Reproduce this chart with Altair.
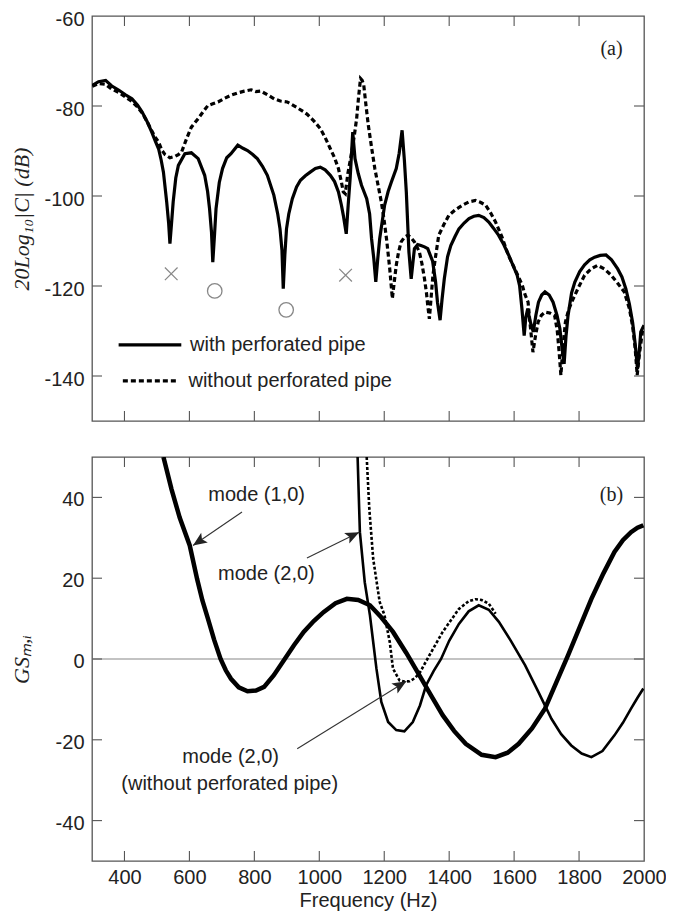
import math
import altair as alt
import pandas as pd

# ---------------- data: panel (a) ----------------
freq_with = [301, 320, 342, 360, 383, 403, 423, 440, 454, 470, 484, 495, 505, 513, 520, 530, 536, 540, 545, 550,
             558, 566, 586, 606, 627, 647, 656, 662, 668, 672, 677, 682, 692, 702, 715, 728, 749, 765, 779, 795,
             809, 825, 840, 860, 872, 879, 885, 889, 894, 899, 906, 917, 930, 942, 957, 972, 988, 1003, 1018, 1034,
             1047, 1059, 1068, 1074, 1083, 1089, 1095, 1103, 1110, 1120, 1130, 1146, 1155, 1161, 1168, 1174, 1180,
             1186, 1201, 1212, 1222, 1237, 1246, 1255, 1262, 1268, 1276, 1283, 1288, 1293, 1303, 1313, 1324, 1334,
             1349, 1358, 1364, 1372, 1378, 1385, 1395, 1405, 1418, 1430, 1446, 1461, 1476, 1491, 1507, 1522, 1537,
             1552, 1568, 1583, 1597, 1609, 1617, 1624, 1631, 1636, 1642, 1648, 1654, 1659, 1667, 1675, 1685, 1695,
             1708, 1720, 1732, 1741, 1748, 1754, 1760, 1766, 1777, 1787, 1802, 1817, 1833, 1848, 1865, 1883, 1900,
             1919, 1932, 1944, 1955, 1965, 1973, 1980, 1986, 1990, 2000]
db_with = [-75.4, -74.6, -74.3, -75.5, -76.5, -77.5, -78.4, -79.8, -81.3, -83.5, -85.8, -87.8, -89.5, -92, -94.7,
           -101.3, -106, -110.6, -106, -101.3, -96, -93.2, -90.6, -90.4, -91.7, -95.4, -99, -102.8, -108, -114.7,
           -109, -102.8, -97, -93.9, -91.5, -90.6, -88.7, -89.4, -89.9, -90.8, -91.7, -93.4, -95.4, -99.8, -104,
           -107.3, -112, -120.6, -113, -107.3, -104, -100.6, -98, -96.5, -95.5, -94.7, -93.9, -93.6, -94.2, -95.4,
           -96.8, -99.1, -102, -104.3, -108.4, -102, -96.1, -85.8, -91.7, -95, -97.6, -100.6, -104, -109.5, -114,
           -119.1, -114, -109.5, -102.1, -99, -96.9, -93.9, -90.5, -85.4, -92, -99.1, -112.4, -118.4, -115, -111.7,
           -110.8, -111, -111.3, -111.7, -114.5, -119, -123.6, -127.6, -123, -118.4, -113.5, -111, -109, -107.3,
           -106, -105, -104.5, -104.3, -104.8, -105.8, -107.2, -108.7, -110.8, -113.1, -115.5, -117.5, -120, -125,
           -131, -127, -125, -127.5, -129, -130.2, -126.5, -123.6, -122, -121.3, -122, -123.6, -126.5, -129.5, -134,
           -137.3, -131, -126.6, -121.5, -119.1, -116.8, -115.3, -114.2, -113.6, -113.2, -113.1, -114.2, -116.2,
           -118, -120.6, -124, -128.1, -133, -138.4, -134, -130.2, -128.7]

freq_without = [301, 320, 342, 360, 383, 403, 423, 440, 454, 470, 484, 495, 505, 515, 525, 540, 556, 566, 576, 591,
                606, 627, 642, 657, 672, 688, 708, 728, 748, 769, 790, 805, 820, 840, 861, 880, 901, 911, 930, 952,
                962, 983, 1003, 1018, 1034, 1047, 1059, 1067, 1074, 1080, 1088, 1100, 1108, 1115, 1121, 1127, 1132,
                1137, 1144, 1151, 1161, 1171, 1181, 1191, 1199, 1207, 1212, 1217, 1221, 1225, 1231, 1237, 1244, 1252,
                1262, 1273, 1283, 1293, 1308, 1316, 1324, 1330, 1334, 1339, 1345, 1350, 1359, 1368, 1384, 1399, 1420,
                1442, 1461, 1481, 1496, 1512, 1528, 1543, 1563, 1582, 1604, 1625, 1633, 1643, 1650, 1658, 1666, 1674,
                1684, 1695, 1710, 1725, 1733, 1739, 1744, 1750, 1758, 1767, 1777, 1797, 1817, 1837, 1857, 1878, 1899,
                1919, 1939, 1955, 1965, 1973, 1979, 1986, 1995, 2000]
db_without = [-75.6, -75, -75.2, -76.2, -77, -78, -79, -80.2, -81.5, -83.5, -85.5, -87, -88, -89.8, -90.8, -91.5,
              -91.2, -90.8, -90.2, -87.3, -84.7, -82.8, -81.3, -79.9, -79.5, -79.1, -78.3, -77.6, -77.1, -76.7,
              -76.4, -76.8, -76.7, -77.5, -78.4, -78.9, -79.1, -79.5, -80.3, -81.3, -81.8, -83.3, -85, -87, -89.5,
              -91.5, -93.9, -96.5, -99.1, -99.5, -95, -90.2, -86.5, -82.8, -78, -73.9, -74.3, -75.4, -80, -84.3,
              -89.2, -93.9, -97.6, -101.3, -105, -109.5, -112.8, -116.2, -119.5, -122.8, -119, -115.4, -112.5,
              -110.2, -109.2, -108.7, -109.3, -110.2, -112.4, -115, -118.4, -121.5, -124.3, -127.3, -122, -117.6,
              -113, -108.7, -106.3, -104.3, -103, -102, -101.3, -101, -101.4, -102, -103.8, -105.8, -109.2, -113.1,
              -116.5, -119.8, -121.8, -123.6, -129, -134.7, -131, -128, -126.5, -125.8, -126, -126.6, -130, -135,
              -139.8, -134, -128, -125.5, -123.6, -120.5, -117.6, -116.2, -115.4, -116.2, -117.6, -119.4, -121.3,
              -125, -129, -134, -139.8, -135, -130.2, -129]

cross_f = [544, 1081]
cross_v = [-117.3, -117.6]
circle_f = [678, 898]
circle_v = [-121.1, -125.3]

legend_labels = ["with perforated pipe", "without perforated pipe"]
legend_f0 = [382, 395]
legend_f1 = [575, 559]
legend_ftext = [602, 597]
legend_v = [-133.1, -141.1]

# ---------------- data: panel (b) ----------------
freq_m10 = [520, 545, 570, 601, 624, 640, 657, 676, 696, 712, 728, 752, 779, 805, 830, 860, 891, 922, 952, 983,
            1013, 1050, 1085, 1120, 1156, 1190, 1227, 1268, 1308, 1345, 1380, 1415, 1451, 1500, 1543, 1580, 1614,
            1655, 1695, 1730, 1766, 1802, 1838, 1875, 1909, 1935, 1960, 1980, 1998]
gs_m10 = [50, 42, 35, 28.1, 19.7, 14.5, 10, 4.8, 0, -2.8, -4.9, -7, -8, -7.8, -6.9, -4, -0.3, 3.4, 6.7, 9.4,
          11.6, 13.8, 14.9, 14.6, 13.3, 10.4, 6.7, 1.5, -4, -9.1, -13.9, -17.8, -21, -23.7, -24.3, -23.2, -21,
          -17.2, -12.3, -5.8, 0.9, 7.9, 14.9, 21.2, 26.5, 29.4, 31.4, 32.5, 33.1]

freq_m20 = [1118, 1125, 1140, 1156, 1166, 1176, 1191, 1212, 1237, 1262, 1288, 1310, 1329, 1352, 1375, 1400, 1430,
            1460, 1491, 1522, 1553, 1590, 1634, 1675, 1715, 1745, 1776, 1808, 1838, 1872, 1909, 1935, 1960, 1980, 1998]
gs_m20 = [50, 31.4, 19, 10.8, 4.2, -2.4, -10.6, -15.6, -17.6, -17.9, -15.6, -11.5, -6.5, -3, 0, 4.5, 8.7, 11.8,
          13.3, 12.2, 9.2, 4.5, -1.6, -8.2, -14.8, -18.6, -21.4, -23.4, -24.3, -22.8, -18.9, -15.8, -12.3, -9.6, -7.3]

freq_m20_without = [1146, 1154, 1166, 1186, 1201, 1217, 1227, 1247, 1262, 1278, 1293, 1308, 1339, 1380, 1430,
                    1460, 1481, 1500, 1522, 1543]
gs_m20_without = [50, 37.2, 24.8, 14.1, 10.8, 4.2, -2.4, -5.3, -5.6, -5.5, -4.8, -3.6, 0.9, 6.7, 12.4, 14.3,
                  14.8, 14.6, 13.7, 11.2]

note_text = ["mode (1,0)", "mode (2,0)", "mode (2,0)", "(without perforated pipe)"]
note_f = [807, 837, 727, 724]
note_v = [40.6, 21.0, -24.3, -30.9]

arrow_f0 = [762, 962, 932]
arrow_v0 = [36.4, 25.0, -22.2]
arrow_f1 = [611, 1123, 1268]
arrow_v1 = [28.1, 31.4, -5.5]

x_ticks = [400, 600, 800, 1000, 1200, 1400, 1600, 1800, 2000]
y_ticks_a = [-140, -120, -100, -80, -60]
y_ticks_b = [-40, -20, 0, 20, 40]

# ---------------- layout constants ----------------
W = 552
HA = 405
HB = 404
TICK = 10
FRAME = "#555555"
SANS = "Liberation Sans"
SERIF = "Liberation Serif"
PLAIN = "toString(datum.value)"

XDOM = [300, 2000]
YDOM_A = [-150, -60]
YDOM_B = [-50, 50]

x_axis_none = None
x_axis_b = alt.Axis(values=x_ticks, title="Frequency (Hz)", labelFlush=False, labelPadding=6, labelExpr=PLAIN,
                    titlePadding=3, titleFont=SANS, titleFontSize=20, titleFontWeight="normal",
                    titleColor="#222")
y_axis_a = alt.Axis(values=y_ticks_a, title="20Log₁₀|C| (dB)", labelPadding=8, minExtent=48, maxExtent=48,
                    labelExpr=PLAIN, labelOffset=3,
                    titlePadding=11, titleFont=SERIF, titleFontStyle="italic", titleFontWeight="normal",
                    titleFontSize=22, titleColor="#222")
y_axis_b = alt.Axis(values=y_ticks_b, title="GSₘ,ᵢ", labelPadding=8, minExtent=48, maxExtent=48,
                    labelExpr=PLAIN, labelOffset=2.5,
                    titlePadding=11, titleFont=SERIF, titleFontStyle="italic", titleFontWeight="normal",
                    titleFontSize=22, titleColor="#222")


def X(field, axis):
    return alt.X(f"{field}:Q", scale=alt.Scale(domain=XDOM, nice=False, zero=False), axis=axis)


def Y(field, dom, axis):
    return alt.Y(f"{field}:Q", scale=alt.Scale(domain=dom, nice=False, zero=False), axis=axis)


def frame_ticks(xaxis, ydom, yaxis, yticks, h):
    xt = pd.DataFrame({"f": [t for t in x_ticks if XDOM[0] < t < XDOM[1]]})
    yt = pd.DataFrame({"v": [t for t in yticks if ydom[0] < t < ydom[1]]})
    base_x = alt.Chart(xt).mark_rule(color=FRAME, strokeWidth=1.1)
    base_y = alt.Chart(yt).mark_rule(color=FRAME, strokeWidth=1.1)
    return [
        base_x.encode(x=X("f", xaxis), y=alt.value(h), y2=alt.value(h - TICK)),
        base_x.encode(x=X("f", xaxis), y=alt.value(0), y2=alt.value(TICK)),
        base_y.encode(y=Y("v", ydom, yaxis), x=alt.value(0), x2=alt.value(TICK)),
        base_y.encode(y=Y("v", ydom, yaxis), x=alt.value(W - TICK), x2=alt.value(W)),
    ]


# ---------------- panel (a) ----------------
df_with = pd.DataFrame({"f": freq_with, "v": db_with})
df_without = pd.DataFrame({"f": freq_without, "v": db_without})

line_with = alt.Chart(df_with).mark_line(color="black", strokeWidth=3.2, clip=True).encode(
    x=X("f", x_axis_none), y=Y("v", YDOM_A, y_axis_a))
line_without = alt.Chart(df_without).mark_line(color="black", strokeWidth=3.2, strokeDash=[5, 3],
                                               clip=True).encode(
    x=X("f", x_axis_none), y=Y("v", YDOM_A, y_axis_a))

crosses = alt.Chart(pd.DataFrame({"f": cross_f, "v": cross_v})).mark_point(
    shape="M-1,-1L1,1M-1,1L1,-1", size=160, filled=False, color="#555", strokeWidth=1.2).encode(
    x=X("f", x_axis_none), y=Y("v", YDOM_A, y_axis_a))
circles = alt.Chart(pd.DataFrame({"f": circle_f, "v": circle_v})).mark_point(
    shape="circle", size=210, filled=False, color="#555", strokeWidth=1.3).encode(
    x=X("f", x_axis_none), y=Y("v", YDOM_A, y_axis_a))

df_leg = pd.DataFrame({"label": legend_labels, "f": legend_f0, "f2": legend_f1, "ft": legend_ftext,
                       "v": legend_v})
leg_solid = alt.Chart(df_leg.iloc[[0]]).mark_rule(color="black", strokeWidth=3.2).encode(
    x=X("f", x_axis_none), x2="f2:Q", y=Y("v", YDOM_A, y_axis_a))
leg_dash = alt.Chart(df_leg.iloc[[1]]).mark_rule(color="black", strokeWidth=3.2, strokeDash=[5, 3]).encode(
    x=X("f", x_axis_none), x2="f2:Q", y=Y("v", YDOM_A, y_axis_a))
leg_text = alt.Chart(df_leg).mark_text(align="left", baseline="middle", font=SANS, fontSize=20,
                                       color="#222").encode(
    x=X("ft", x_axis_none), y=Y("v", YDOM_A, y_axis_a), text="label:N")

lab_a = alt.Chart(pd.DataFrame({"f": [1900], "v": [-67.3], "t": ["(a)"]})).mark_text(
    font=SERIF, fontSize=20, color="#222", baseline="middle").encode(
    x=X("f", x_axis_none), y=Y("v", YDOM_A, y_axis_a), text="t:N")

panel_a = alt.layer(
    line_with, line_without, crosses, circles, leg_solid, leg_dash, leg_text, lab_a,
    *frame_ticks(x_axis_none, YDOM_A, y_axis_a, y_ticks_a, HA)
).properties(width=W, height=HA)

# ---------------- panel (b) ----------------
zero = alt.Chart(pd.DataFrame({"v": [0]})).mark_rule(color="#888", strokeWidth=1.2).encode(
    y=Y("v", YDOM_B, y_axis_b))

m10 = alt.Chart(pd.DataFrame({"f": freq_m10, "v": gs_m10})).mark_line(
    color="black", strokeWidth=4.5, clip=True).encode(x=X("f", x_axis_b), y=Y("v", YDOM_B, y_axis_b))
m20 = alt.Chart(pd.DataFrame({"f": freq_m20, "v": gs_m20})).mark_line(
    color="black", strokeWidth=2.6, clip=True).encode(x=X("f", x_axis_b), y=Y("v", YDOM_B, y_axis_b))
m20w = alt.Chart(pd.DataFrame({"f": freq_m20_without, "v": gs_m20_without})).mark_line(
    color="black", strokeWidth=2.6, strokeDash=[3, 2], clip=True).encode(
    x=X("f", x_axis_b), y=Y("v", YDOM_B, y_axis_b))

notes = alt.Chart(pd.DataFrame({"f": note_f, "v": note_v, "t": note_text})).mark_text(
    font=SANS, fontSize=20, color="#222", baseline="middle").encode(
    x=X("f", x_axis_b), y=Y("v", YDOM_B, y_axis_b), text="t:N")

px_per_f = W / (XDOM[1] - XDOM[0])
px_per_v = HB / (YDOM_B[1] - YDOM_B[0])
arrow_angle = []
for f0, v0, f1, v1 in zip(arrow_f0, arrow_v0, arrow_f1, arrow_v1):
    a = math.degrees(math.atan2((f1 - f0) * px_per_f, (v1 - v0) * px_per_v))
    arrow_angle.append(round(a % 360, 1))

df_arr = pd.DataFrame({"f": arrow_f0, "v": arrow_v0, "f2": arrow_f1, "v2": arrow_v1, "ang": arrow_angle})
arr_lines = alt.Chart(df_arr).mark_rule(color="#333", strokeWidth=1.1).encode(
    x=X("f", x_axis_b), y=Y("v", YDOM_B, y_axis_b), x2="f2:Q", y2="v2:Q")
arr_heads = alt.Chart(df_arr).mark_point(
    shape="M0,0L-0.42,1L0,0.78L0.42,1Z", size=780, filled=True, color="#222", opacity=1).encode(
    x=X("f2", x_axis_b), y=Y("v2", YDOM_B, y_axis_b), angle=alt.Angle("ang:Q", scale=None))

lab_b = alt.Chart(pd.DataFrame({"f": [1900], "v": [40.6], "t": ["(b)"]})).mark_text(
    font=SERIF, fontSize=20, color="#222", baseline="middle").encode(
    x=X("f", x_axis_b), y=Y("v", YDOM_B, y_axis_b), text="t:N")

panel_b = alt.layer(
    zero, m10, m20, m20w, arr_lines, arr_heads, notes, lab_b,
    *frame_ticks(x_axis_b, YDOM_B, y_axis_b, y_ticks_b, HB)
).properties(width=W, height=HB)

chart = alt.vconcat(panel_a, panel_b, spacing=36, bounds="flush").properties(
    padding={"left": 1, "top": 0, "right": -1, "bottom": 0}
).configure_view(stroke=FRAME, strokeWidth=1.3).configure_axis(
    labelFont=SANS, labelFontSize=20, labelColor="#222", ticks=False, domain=False, grid=False
)

chart.save("out.html", embed_options={"renderer": "svg", "actions": False})
